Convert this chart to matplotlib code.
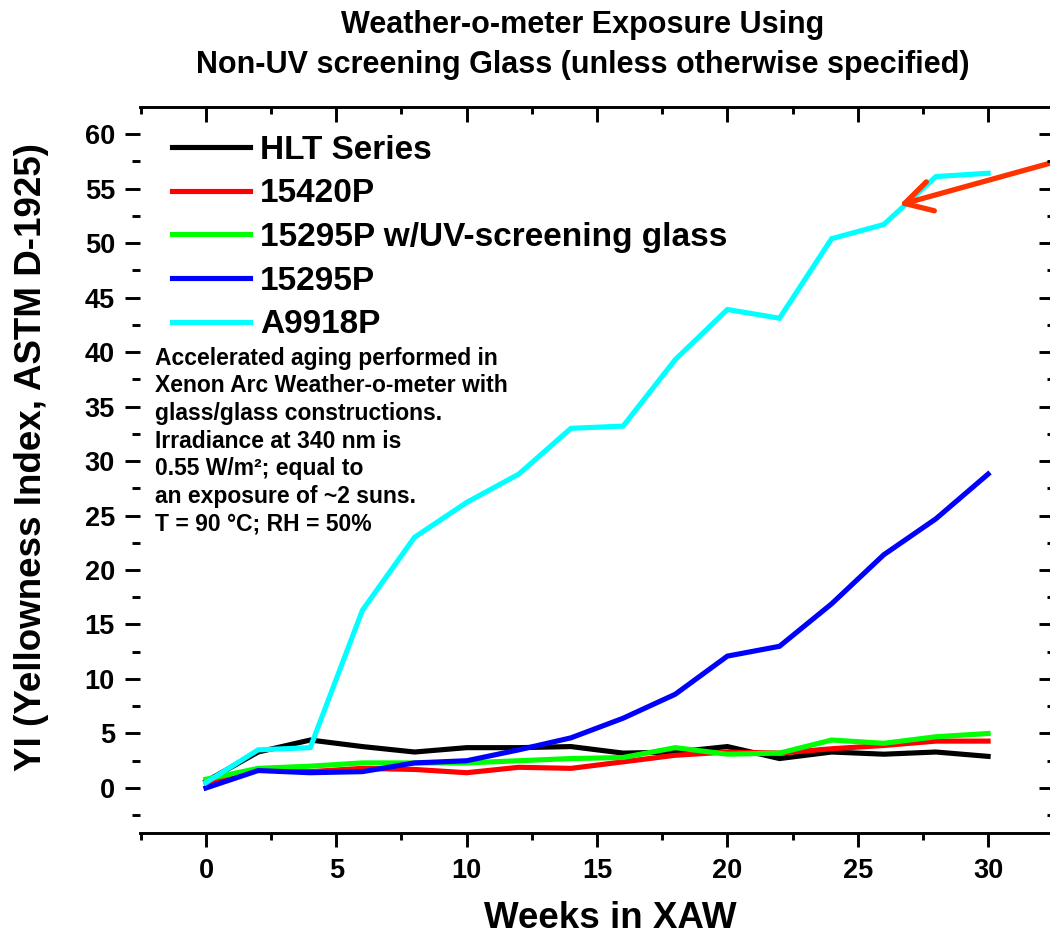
import matplotlib
matplotlib.use("Agg")
import matplotlib.pyplot as plt
from matplotlib.ticker import MultipleLocator

plt.rcParams['font.family'] = ['Liberation Sans', 'DejaVu Sans']
plt.rcParams['font.weight'] = 'bold'

# data
weeks = [0, 2, 4, 6, 8, 10, 12, 14, 16, 18, 20, 22, 24, 26, 28, 30]
hlt = [0.6, 3.3, 4.4, 3.8, 3.3, 3.7, 3.7, 3.8, 3.2, 3.3, 3.8, 2.7, 3.3, 3.1, 3.3, 2.9]
p15420 = [0.5, 1.7, 1.5, 1.8, 1.7, 1.4, 1.9, 1.8, 2.4, 3.0, 3.3, 3.2, 3.6, 3.9, 4.3, 4.3]
p15295_uv = [0.8, 1.8, 2.0, 2.3, 2.3, 2.3, 2.5, 2.7, 2.8, 3.7, 3.1, 3.2, 4.4, 4.1, 4.7, 5.0]
p15295 = [0.0, 1.6, 1.4, 1.5, 2.3, 2.5, 3.5, 4.6, 6.4, 8.6, 12.1, 13.0, 16.9, 21.4, 24.7, 28.8]
a9918 = [0.5, 3.5, 3.7, 16.3, 23.0, 26.2, 28.8, 33.0, 33.2, 39.3, 43.9, 43.1, 50.4, 51.7, 56.1, 56.4]

series = [
    ('HLT Series', hlt, 'black'),
    ('15420P', p15420, '#ff0000'),
    ('15295P w/UV-screening glass', p15295_uv, '#00ff00'),
    ('15295P', p15295, '#0000ff'),
    ('A9918P', a9918, '#00ffff'),
]

note = ("Accelerated aging performed in\n"
        "Xenon Arc Weather-o-meter with\n"
        "glass/glass constructions.\n"
        "Irradiance at 340 nm is\n"
        "0.55 W/m\u00b2; equal to\n"
        "an exposure of ~2 suns.\n"
        "T = 90 \u00b0C; RH = 50%")

fig = plt.figure(figsize=(10.5, 9.38), dpi=100)
ax = fig.add_axes([140 / 1050, 1 - 833 / 938, 913 / 1050, 726 / 938])

for label, vals, col in series:
    ax.plot(weeks, vals, color=col, lw=3.7, label=label, solid_joinstyle='miter')

ax.set_xlim(-2.53, 32.49)
ax.set_ylim(-4.13, 62.48)

ax.xaxis.set_major_locator(MultipleLocator(5))
ax.xaxis.set_minor_locator(MultipleLocator(2.5))
ax.yaxis.set_major_locator(MultipleLocator(5))
ax.yaxis.set_minor_locator(MultipleLocator(2.5))

ax.spines['left'].set_visible(False)
ax.spines['right'].set_visible(False)
for s in ['top', 'bottom']:
    ax.spines[s].set_linewidth(2.1)

ax.tick_params(axis='x', which='both', bottom=True, top=False, direction='out', width=2.1)
ax.tick_params(axis='x', which='major', length=10, pad=8, labelsize=19.5)
ax.tick_params(axis='x', which='minor', length=5)
ax.tick_params(axis='y', which='both', left=True, right=False, direction='out', width=2.1)
ax.tick_params(axis='y', which='major', length=11, pad=7, labelsize=19.5)
ax.tick_params(axis='y', which='minor', length=5.5)

# inward ticks on top and right edges
ax2 = ax.twiny()
ax2.set_xlim(ax.get_xlim())
ax2.xaxis.set_major_locator(MultipleLocator(5))
ax2.xaxis.set_minor_locator(MultipleLocator(2.5))
ax2.tick_params(axis='x', which='both', direction='in', width=2.1, labeltop=False)
ax2.tick_params(axis='x', which='major', length=10.5)
ax2.tick_params(axis='x', which='minor', length=5)
for s in ax2.spines.values():
    s.set_visible(False)
ax3 = ax.twinx()
ax3.set_ylim(ax.get_ylim())
ax3.yaxis.set_major_locator(MultipleLocator(5))
ax3.yaxis.set_minor_locator(MultipleLocator(2.5))
ax3.tick_params(axis='y', which='both', direction='in', width=2.1, labelright=False)
ax3.tick_params(axis='y', which='major', length=10)
ax3.tick_params(axis='y', which='minor', length=4)
for s in ax3.spines.values():
    s.set_visible(False)

for lab in ax.get_xticklabels() + ax.get_yticklabels():
    lab.set_fontweight('bold')

leg = ax.legend(loc='upper left', bbox_to_anchor=(0.035, 0.962), frameon=False,
                fontsize=24, handlelength=2.35, handletextpad=0.3,
                labelspacing=0.38, borderpad=0, borderaxespad=0)
for h in leg.get_lines():
    h.set_linewidth(3.7)

ax.text(0.016, 0.67, note, transform=ax.transAxes, fontsize=16.5, fontweight='bold',
        va='top', ha='left', linespacing=1.26)

ax.annotate('', xy=(26.6, 53.5), xytext=(34.3, 58.6), annotation_clip=False,
            arrowprops=dict(arrowstyle='->,head_length=0.8,head_width=0.45',
                            color='#ff3300', lw=3.8, mutation_scale=24,
                            shrinkA=0, shrinkB=0))

fig.text(583 / 1050, 1 - 25 / 938, 'Weather-o-meter Exposure Using',
         ha='center', va='center', fontsize=22, fontweight='bold')
fig.text(583 / 1050, 1 - 65 / 938, 'Non-UV screening Glass (unless otherwise specified)',
         ha='center', va='center', fontsize=22, fontweight='bold')
fig.text(32 / 1050, 1 - 457 / 938, 'YI (Yellowness Index, ASTM D-1925)', rotation=90,
         ha='center', va='center', fontsize=26.5, fontweight='bold')
fig.text(610 / 1050, 1 - 918 / 938, 'Weeks in XAW',
         ha='center', va='center', fontsize=26.5, fontweight='bold')

fig.savefig('out.png', dpi=100)
